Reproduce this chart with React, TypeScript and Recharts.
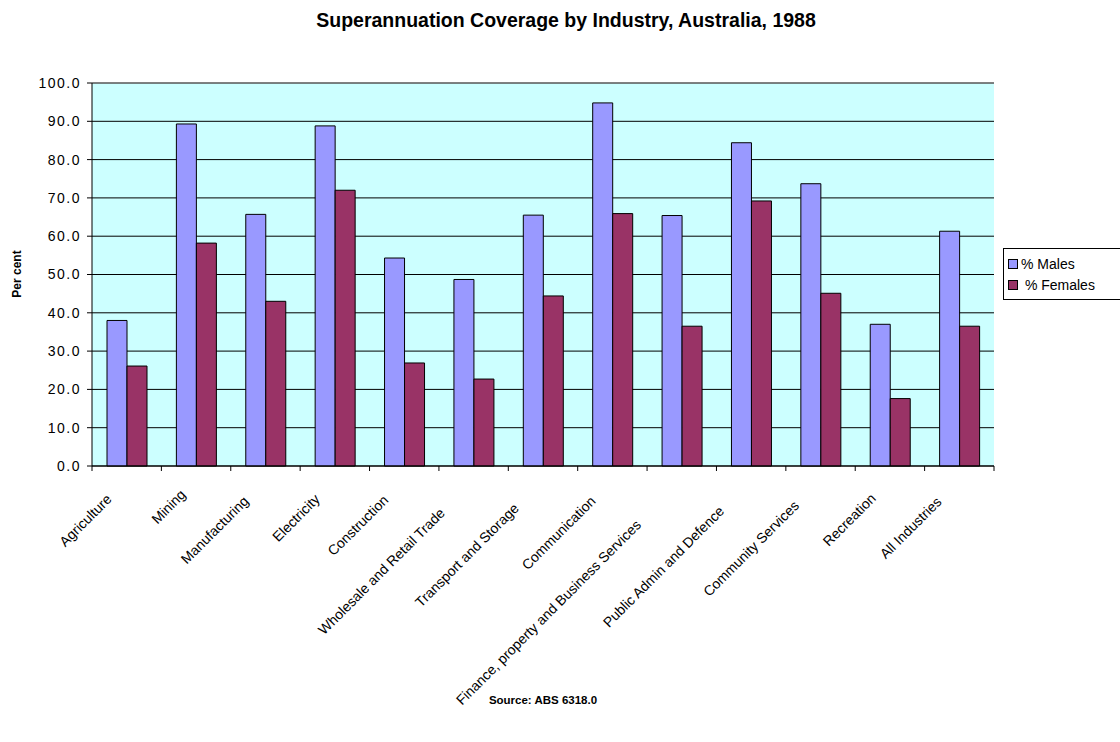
import React from 'react';
import {
  BarChart,
  Bar,
  XAxis,
  YAxis,
  CartesianGrid,
  Legend,
  ReferenceLine,
} from 'recharts';

const industries = [
  'Agriculture',
  'Mining',
  'Manufacturing',
  'Electricity',
  'Construction',
  'Wholesale and Retail Trade',
  'Transport and Storage',
  'Communication',
  'Finance, property and Business Services',
  'Public Admin and Defence',
  'Community Services',
  'Recreation',
  'All Industries',
];

const males = [38.0, 89.3, 65.7, 88.8, 54.3, 48.7, 65.5, 94.8, 65.4, 84.4, 73.7, 37.0, 61.3];
const females = [26.1, 58.2, 43.0, 72.0, 26.9, 22.7, 44.4, 65.9, 36.5, 69.2, 45.1, 17.6, 36.5];

const yTicks = [0, 10, 20, 30, 40, 50, 60, 70, 80, 90, 100];

const data = industries.map((name, i) => ({
  name,
  males: males[i],
  females: females[i],
}));

const FONT = "Arial, 'Liberation Sans', sans-serif";

const IndustryTick = (props: any) => {
  const { x, y, payload, index } = props;
  const half = payload && payload.offset ? payload.offset : 34.7;
  const label = String(payload.value);
  const shift = label.length * 1.3;
  const ax = x - 4;
  const ay = y + 24;
  return (
    <g>
      <line x1={x - half} x2={x - half} y1={y} y2={y + 5} stroke="#000" />
      {index === industries.length - 1 && (
        <line x1={x + half} x2={x + half} y1={y} y2={y + 5} stroke="#000" />
      )}
      <text
        x={ax}
        y={ay}
        dx={-shift}
        transform={`rotate(-45, ${ax}, ${ay})`}
        textAnchor="end"
        fontSize={14}
        fontFamily={FONT}
        fill="#000"
      >
        {label}
      </text>
    </g>
  );
};

const LegendBox = () => (
  <div
    style={{
      border: '1px solid #000',
      background: '#fff',
      width: 130,
      height: 52,
      fontFamily: FONT,
      fontSize: 14,
      boxSizing: 'border-box',
      paddingLeft: 4,
      paddingTop: 4,
    }}
  >
    <div style={{ display: 'flex', alignItems: 'center', height: 21 }}>
      <span style={{ width: 8, height: 8, border: '1px solid #000', background: '#9999FF', marginRight: 3 }} />
      <span>% Males</span>
    </div>
    <div style={{ display: 'flex', alignItems: 'center', height: 22 }}>
      <span style={{ width: 8, height: 8, border: '1px solid #000', background: '#993366', marginRight: 3 }} />
      <span>&nbsp;% Females</span>
    </div>
  </div>
);

export default function App() {
  return (
    <div style={{ position: 'absolute', left: 0, top: 0, width: 1120, height: 742, background: '#fff', overflow: 'hidden' }}>
      <div
        style={{
          position: 'absolute',
          top: 9,
          left: 0,
          width: 1120,
          textAlign: 'center',
          fontFamily: FONT,
          fontWeight: 'bold',
          fontSize: 19.5,
        }}
      >
        <span style={{ position: 'relative', left: 6 }}>Superannuation Coverage by Industry, Australia, 1988</span>
      </div>
      <div
        style={{
          position: 'absolute',
          left: 17,
          top: 274,
          transform: 'translate(-50%, -50%) rotate(-90deg)',
          fontFamily: FONT,
          fontWeight: 'bold',
          fontSize: 12,
          whiteSpace: 'nowrap',
        }}
      >
        Per cent
      </div>
      <div
        style={{
          position: 'absolute',
          top: 694,
          left: 0,
          width: 1086,
          textAlign: 'center',
          fontFamily: FONT,
          fontWeight: 'bold',
          fontSize: 11.5,
        }}
      >
        Source: ABS 6318.0
      </div>
      <BarChart
        width={1120}
        height={742}
        data={data}
        margin={{ top: 83, right: 126, bottom: 0, left: 0 }}
        barGap={0}
        barSize={20}
      >
        <CartesianGrid fill="#CCFFFF" stroke="#000" vertical={false} fillOpacity={1} />
        <XAxis
          dataKey="name"
          interval={0}
          height={276}
          tickLine={false}
          tickSize={0}
          tickMargin={0}
          tick={<IndustryTick />}
          axisLine={{ stroke: '#000' }}
        />
        <YAxis
          width={92}
          domain={[0, 100]}
          ticks={yTicks}
          interval={0}
          tickFormatter={(v: number) => v.toFixed(1)}
          tick={{ fontSize: 14, fill: '#000', fontFamily: FONT, letterSpacing: 1.5 }}
          tickSize={5}
          tickMargin={6}
          tickLine={{ stroke: '#000' }}
          axisLine={{ stroke: '#000' }}
        />
        <YAxis
          yAxisId="edge"
          orientation="right"
          width={0}
          domain={[0, 100]}
          tick={false}
          tickLine={false}
          axisLine={{ stroke: '#808080' }}
        />
        <ReferenceLine y={100} stroke="#808080" />
        <Bar dataKey="males" name="% Males" fill="#9999FF" stroke="#000" strokeWidth={1} isAnimationActive={false} />
        <Bar dataKey="females" name="% Females" fill="#993366" stroke="#000" strokeWidth={1} isAnimationActive={false} />
        <Legend
          layout="vertical"
          align="center"
          verticalAlign="middle"
          content={<LegendBox />}
          wrapperStyle={{ position: 'absolute', left: 1003, top: 248, width: 130, height: 52 }}
        />
      </BarChart>
    </div>
  );
}
